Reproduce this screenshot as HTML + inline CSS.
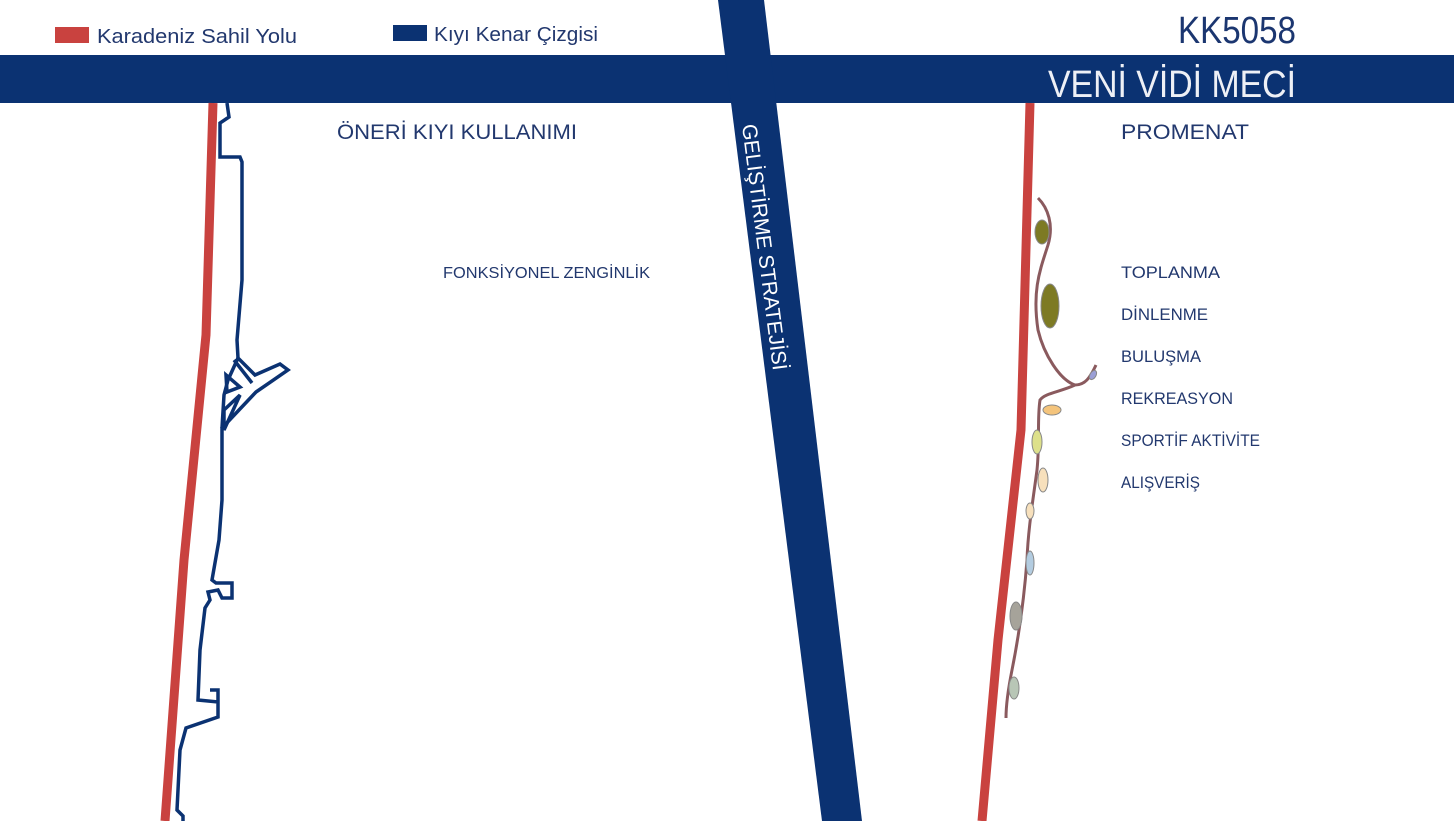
<!DOCTYPE html>
<html><head><meta charset="utf-8"><style>
html,body{margin:0;padding:0;background:#fff;width:1454px;height:821px;overflow:hidden}
svg{display:block}
text{font-family:"Liberation Sans",sans-serif}
</style></head><body>
<svg width="1454" height="821" viewBox="0 0 1454 821">
<rect x="0" y="0" width="1454" height="821" fill="#fff"/>
<!-- legend -->
<rect x="55" y="27" width="34" height="16" fill="#c9423f"/>
<text x="97" y="43" font-size="20" fill="#22386e" textLength="200" lengthAdjust="spacingAndGlyphs">Karadeniz Sahil Yolu</text>
<rect x="393" y="25" width="34" height="16" fill="#0b3272"/>
<text x="434" y="41" font-size="20" fill="#22386e" textLength="164" lengthAdjust="spacingAndGlyphs">Kıyı Kenar Çizgisi</text>
<text x="1296" y="43" font-size="38" fill="#1b3670" text-anchor="end" textLength="118" lengthAdjust="spacingAndGlyphs">KK5058</text>
<!-- top bar -->
<rect x="0" y="55" width="1454" height="48" fill="#0b3272"/>
<!-- diagonal band -->
<polygon points="718,0 764,0 862,821 822,821" fill="#0b3272"/>
<text x="1296" y="97" font-size="38" fill="#eef0f6" text-anchor="end" textLength="248" lengthAdjust="spacingAndGlyphs">VENİ VİDİ MECİ</text>
<text transform="translate(742,125) rotate(82.8)" font-size="21" fill="#ffffff" textLength="248" lengthAdjust="spacingAndGlyphs">GELİŞTİRME STRATEJİSİ</text>
<!-- headings -->
<text x="337" y="139" font-size="21" fill="#22386e" textLength="240" lengthAdjust="spacingAndGlyphs">ÖNERİ KIYI KULLANIMI</text>
<text x="1121" y="139" font-size="21" fill="#22386e" textLength="128" lengthAdjust="spacingAndGlyphs">PROMENAT</text>
<text x="443" y="278" font-size="16" fill="#22386e" textLength="207" lengthAdjust="spacingAndGlyphs">FONKSİYONEL ZENGİNLİK</text>
<g font-size="17" fill="#22386e">
<text x="1121" y="278" textLength="99" lengthAdjust="spacingAndGlyphs">TOPLANMA</text>
<text x="1121" y="320" textLength="87" lengthAdjust="spacingAndGlyphs">DİNLENME</text>
<text x="1121" y="362" textLength="80" lengthAdjust="spacingAndGlyphs">BULUŞMA</text>
<text x="1121" y="404" textLength="112" lengthAdjust="spacingAndGlyphs">REKREASYON</text>
<text x="1121" y="446" textLength="139" lengthAdjust="spacingAndGlyphs">SPORTİF AKTİVİTE</text>
<text x="1121" y="488" textLength="79" lengthAdjust="spacingAndGlyphs">ALIŞVERİŞ</text>
</g>
<!-- left red road -->
<path d="M213,103 L206,335 L184,560 L165,821" stroke="#c9423f" stroke-width="9" fill="none"/>
<!-- left coastline -->
<path d="M227,103 L229,117 L220,123 L220,157 L240,157 L242,162 L242,280 L237,340 L238,358 L255,375 L280,364 L288,370 L256,392 L222,428 L222,500 L219,540 L212,580 L216,583 L232,583 L232,598 L222,598 L218,590 L208,592 L210,600 L205,608 L200,650 L198,700 L218,702 L218,690 L210,690 M218,702 L218,717 L186,728 L180,750 L177,810 L183,816 L183,821"
 stroke="#0b3272" stroke-width="3.5" fill="none" stroke-linejoin="miter"/>
<path d="M234,360 L252,383 M226,375 L240,387 L227,392 Z M224,410 L240,395 L224,430 Z" stroke="#0b3272" stroke-width="3.5" fill="none"/>
<path d="M238,358 L228,380 L224,395 L222,428" stroke="#0b3272" stroke-width="3.5" fill="none"/>
<!-- right red road -->
<path d="M1030,103 L1021,430 L998,640 L982,821" stroke="#c9423f" stroke-width="9" fill="none"/>
<!-- promenade path -->
<path d="M1038,198 C1048,208 1054,225 1048,245 C1040,270 1032,290 1038,330 C1044,355 1060,380 1075,385 C1085,385 1090,378 1096,365 M1075,385 C1060,392 1045,393 1040,400 C1037,420 1040,440 1037,470 C1033,500 1028,530 1027,560 C1024,600 1018,640 1012,670 C1008,690 1006,705 1006,718"
 stroke="#8a5a5e" stroke-width="3" fill="none"/>
<g stroke-width="1" stroke="#888">
<ellipse cx="1042" cy="232" rx="7" ry="12" fill="#7d7a24"/>
<ellipse cx="1050" cy="306" rx="9" ry="22" fill="#7d7a24"/>
<ellipse cx="1093" cy="375" rx="3" ry="5" fill="#9b9fd6" transform="rotate(30 1093 375)"/>
<ellipse cx="1052" cy="410" rx="9" ry="5" fill="#f4c47c"/>
<ellipse cx="1037" cy="442" rx="5" ry="12" fill="#dde08a"/>
<ellipse cx="1043" cy="480" rx="5" ry="12" fill="#f7e0bc"/>
<ellipse cx="1030" cy="511" rx="4" ry="8" fill="#f7e0bc"/>
<ellipse cx="1030" cy="563" rx="4" ry="12" fill="#b3cce0"/>
<ellipse cx="1016" cy="616" rx="6" ry="14" fill="#a6a39a"/>
<ellipse cx="1014" cy="688" rx="5" ry="11" fill="#b8c6b6"/>
</g>
</svg>
</body></html>
